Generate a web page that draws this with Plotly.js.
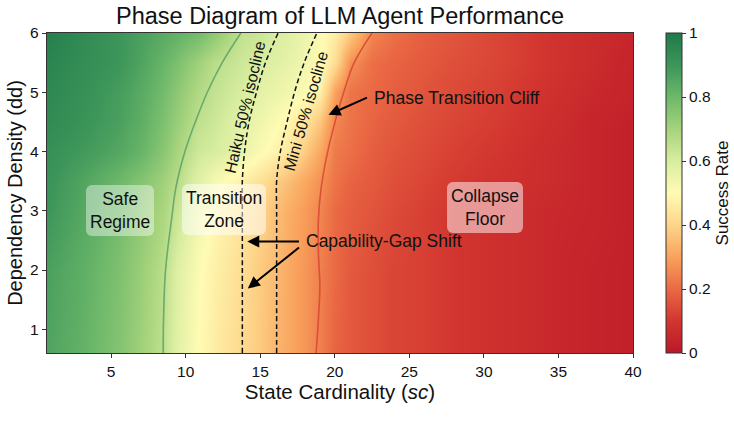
<!DOCTYPE html>
<html>
<head>
<meta charset="utf-8">
<script src="https://cdn.plot.ly/plotly-3.0.1.min.js"></script>
<style>
  html, body { margin: 0; padding: 0; background: #ffffff; }
  #chart { width: 734px; height: 427px; }
</style>
</head>
<body>
<div id="chart"></div>
<script>
// Grid of the success-rate field: state cardinality (x) by dependency density (y)
const stateCardinality = [0.7, 3, 5.5, 7, 8.5, 9.5, 10.8, 12, 13.8, 15, 16, 17, 18, 19, 20, 21, 22.5, 24, 26, 28, 31, 34, 37, 40];
const dependencyDensity = [0.6, 2, 3, 3.5, 4, 4.5, 5, 5.5, 6];

// One row per dependency density value
const successRate = [
  [0.86, 0.82, 0.76, 0.71, 0.65, 0.57, 0.50, 0.46, 0.41, 0.38, 0.34, 0.31, 0.28, 0.24, 0.19, 0.17, 0.15, 0.13, 0.12, 0.10, 0.08, 0.06, 0.04, 0.03],
  [0.87, 0.83, 0.77, 0.72, 0.66, 0.58, 0.51, 0.47, 0.42, 0.38, 0.35, 0.31, 0.28, 0.24, 0.20, 0.17, 0.15, 0.13, 0.12, 0.10, 0.08, 0.06, 0.04, 0.03],
  [0.90, 0.85, 0.79, 0.74, 0.69, 0.63, 0.54, 0.49, 0.44, 0.40, 0.36, 0.32, 0.29, 0.25, 0.20, 0.18, 0.16, 0.14, 0.12, 0.10, 0.08, 0.06, 0.05, 0.03],
  [0.91, 0.86, 0.80, 0.76, 0.71, 0.66, 0.58, 0.52, 0.47, 0.43, 0.39, 0.35, 0.31, 0.27, 0.22, 0.19, 0.17, 0.15, 0.13, 0.11, 0.09, 0.07, 0.05, 0.03],
  [0.92, 0.89, 0.85, 0.81, 0.75, 0.69, 0.62, 0.60, 0.555, 0.51, 0.48, 0.44, 0.38, 0.31, 0.23, 0.21, 0.18, 0.16, 0.14, 0.12, 0.10, 0.07, 0.05, 0.03],
  [0.94, 0.91, 0.87, 0.83, 0.77, 0.72, 0.65, 0.62, 0.57, 0.54, 0.51, 0.48, 0.44, 0.37, 0.25, 0.22, 0.19, 0.17, 0.15, 0.13, 0.11, 0.08, 0.05, 0.03],
  [0.95, 0.92, 0.88, 0.84, 0.79, 0.74, 0.68, 0.64, 0.60, 0.57, 0.55, 0.53, 0.51, 0.47, 0.30, 0.22, 0.20, 0.18, 0.16, 0.14, 0.12, 0.09, 0.06, 0.04],
  [0.96, 0.93, 0.90, 0.86, 0.81, 0.77, 0.71, 0.66, 0.62, 0.60, 0.58, 0.56, 0.53, 0.51, 0.42, 0.27, 0.21, 0.19, 0.17, 0.15, 0.13, 0.10, 0.07, 0.04],
  [0.98, 0.94, 0.90, 0.87, 0.84, 0.82, 0.79, 0.74, 0.645, 0.63, 0.60, 0.58, 0.55, 0.51, 0.46, 0.38, 0.25, 0.21, 0.18, 0.16, 0.13, 0.10, 0.07, 0.05]
];

// Regime boundaries: safe (upper-left) and collapse (lower-right) edges of the transition zone
const safeBoundaryDd = [0.6, 1, 2, 2.85, 3.4, 4, 4.5, 5, 5.5, 6];
const safeBoundarySc = [8.5, 8.5, 8.65, 9.05, 9.35, 9.95, 10.65, 11.45, 12.45, 13.7];
const collapseBoundaryDd = [0.6, 1.17, 1.73, 2.29, 2.85, 3.41, 3.97, 4.53, 5, 5.5, 6];
const collapseBoundarySc = [18.75, 18.9, 19.0, 18.9, 18.9, 19.1, 19.5, 20.05, 20.6, 21.3, 22.5];

// 50% isoclines of the two models
const isoclineDd = [0.6, 1, 2, 3, 3.5, 4, 4.5, 5, 5.5, 6];
const haikuIsoclineSc = [13.8, 13.8, 13.8, 13.8, 13.8, 13.95, 14.25, 14.75, 15.35, 16.2];
const miniIsoclineSc = [16.1, 16.1, 16.1, 16.1, 16.1, 16.35, 16.8, 17.3, 17.95, 18.8];

const xTicks = [5, 10, 15, 20, 25, 30, 35, 40];
const yTicks = [1, 2, 3, 4, 5, 6];
const cbTicks = [0, 0.2, 0.4, 0.6, 0.8, 1];

const FONT = 'Liberation Sans, Arial, Helvetica, sans-serif';

const successScale = [
  [0.0, '#bb1828'],
  [0.1, '#d2352f'],
  [0.2, '#ea6944'],
  [0.3, '#f9a25c'],
  [0.4, '#fdd58a'],
  [0.5, '#fffbb4'],
  [0.6, '#d8eda0'],
  [0.7, '#a6d37c'],
  [0.8, '#6db86a'],
  [0.9, '#3c9559'],
  [1.0, '#1f7a4a']
];

const traces = [
  {
    type: 'heatmap',
    x: stateCardinality,
    y: dependencyDensity,
    z: successRate,
    zmin: 0, zmax: 1,
    zsmooth: 'best',
    colorscale: successScale,
    hoverinfo: 'skip',
    colorbar: {
      x: 1.056, xanchor: 'left', xpad: 0,
      y: 0.5, yanchor: 'middle', ypad: 0,
      len: 1, lenmode: 'fraction',
      thickness: 16,
      outlinecolor: '#333333', outlinewidth: 1,
      tickmode: 'array', tickvals: cbTicks,
      ticks: 'outside', ticklen: 4, tickcolor: '#333333',
      tickfont: { family: FONT, size: 15.5, color: '#111111' },
      title: { text: 'Success Rate', side: 'right', font: { family: FONT, size: 17, color: '#111111' } }
    }
  },
  {
    type: 'scatter', mode: 'lines',
    x: safeBoundarySc, y: safeBoundaryDd,
    line: { color: 'rgba(70,150,95,0.7)', width: 1.6, shape: 'spline', smoothing: 1 },
    hoverinfo: 'skip', showlegend: false
  },
  {
    type: 'scatter', mode: 'lines',
    x: collapseBoundarySc, y: collapseBoundaryDd,
    line: { color: 'rgba(215,65,50,0.8)', width: 1.6, shape: 'spline', smoothing: 1 },
    hoverinfo: 'skip', showlegend: false
  },
  {
    type: 'scatter', mode: 'lines',
    x: haikuIsoclineSc, y: isoclineDd,
    line: { color: '#111111', width: 1.5, dash: '5px,3px', shape: 'spline' },
    hoverinfo: 'skip', showlegend: false
  },
  {
    type: 'scatter', mode: 'lines',
    x: miniIsoclineSc, y: isoclineDd,
    line: { color: '#111111', width: 1.5, dash: '5px,3px', shape: 'spline' },
    hoverinfo: 'skip', showlegend: false
  }
];

const labelFont = { family: FONT, size: 17.5, color: '#111111' };
const regionBox = {
  showarrow: false, xref: 'x', yref: 'y',
  font: labelFont, align: 'center',
  borderpad: 4, borderwidth: 0
};
const arrowStyle = {
  xref: 'x', yref: 'y', axref: 'x', ayref: 'y',
  showarrow: true, arrowhead: 2, arrowsize: 1.2, arrowwidth: 2,
  arrowcolor: '#000000', text: '', standoff: 0, startstandoff: 0
};

const annotations = [
  Object.assign({}, regionBox, { x: 5.6, y: 3.0, text: 'Safe<br>Regime', bgcolor: 'rgba(255,255,255,0.42)' }),
  Object.assign({}, regionBox, { x: 12.6, y: 3.02, text: 'Transition<br>Zone', bgcolor: 'rgba(255,255,255,0.5)' }),
  Object.assign({}, regionBox, { x: 30.1, y: 3.05, text: 'Collapse<br>Floor', bgcolor: 'rgba(255,255,255,0.5)' }),
  {
    xref: 'x', yref: 'y', x: 13.95, y: 4.75, text: 'Haiku 50% isocline',
    textangle: -77, showarrow: false, font: { family: FONT, size: 16, color: '#111111' }
  },
  {
    xref: 'x', yref: 'y', x: 18.04, y: 4.68, text: 'Mini 50% isocline',
    textangle: -74, showarrow: false, font: { family: FONT, size: 16, color: '#111111' }
  },
  {
    xref: 'x', yref: 'y', x: 28.18, y: 4.9, text: 'Phase Transition Cliff',
    showarrow: false, font: labelFont
  },
  Object.assign({}, arrowStyle, { x: 19.58, y: 4.62, ax: 22.26, ay: 4.92 }),
  {
    xref: 'x', yref: 'y', x: 23.33, y: 2.49, text: 'Capability-Gap Shift',
    showarrow: false, font: labelFont
  },
  Object.assign({}, arrowStyle, { x: 14.13, y: 2.48, ax: 17.7, ay: 2.48 }),
  Object.assign({}, arrowStyle, { x: 14.17, y: 1.69, ax: 17.7, ay: 2.4 })
];

const layout = {
  width: 734, height: 427,
  paper_bgcolor: '#ffffff', plot_bgcolor: '#ffffff',
  margin: { l: 46.5, r: 101, t: 32.7, b: 74, autoexpand: false },
  showlegend: false,
  title: {
    text: 'Phase Diagram of LLM Agent Performance',
    font: { family: FONT, size: 23.5, color: '#111111' },
    x: 0.5, xref: 'paper', xanchor: 'center', y: 0.962, yref: 'container', yanchor: 'middle'
  },
  xaxis: {
    range: [0.7, 40], tickmode: 'array', tickvals: xTicks,
    showgrid: false, zeroline: false,
    showline: true, mirror: true, linecolor: '#333333', linewidth: 1.2,
    ticks: 'outside', ticklen: 4, tickcolor: '#333333',
    tickfont: { family: FONT, size: 15.5, color: '#111111' },
    title: { text: 'State Cardinality (<i>sc</i>)', font: { family: FONT, size: 20.5, color: '#111111' }, standoff: 1 }
  },
  yaxis: {
    range: [0.6, 6], tickmode: 'array', tickvals: yTicks,
    showgrid: false, zeroline: false,
    showline: true, mirror: true, linecolor: '#333333', linewidth: 1.2,
    ticks: 'outside', ticklen: 4, tickcolor: '#333333',
    tickfont: { family: FONT, size: 15.5, color: '#111111' },
    title: { text: 'Dependency Density (dd)', font: { family: FONT, size: 20, color: '#111111' }, standoff: 2 }
  },
  annotations: annotations
};

Plotly.newPlot('chart', traces, layout, { staticPlot: true, displayModeBar: false }).then(function (gd) {
  // rounded corners for the region label boxes
  gd.querySelectorAll('.annotation-text-g rect.bg').forEach(function (r) {
    r.setAttribute('rx', 6);
    r.setAttribute('ry', 6);
  });
});
</script>
</body>
</html>
